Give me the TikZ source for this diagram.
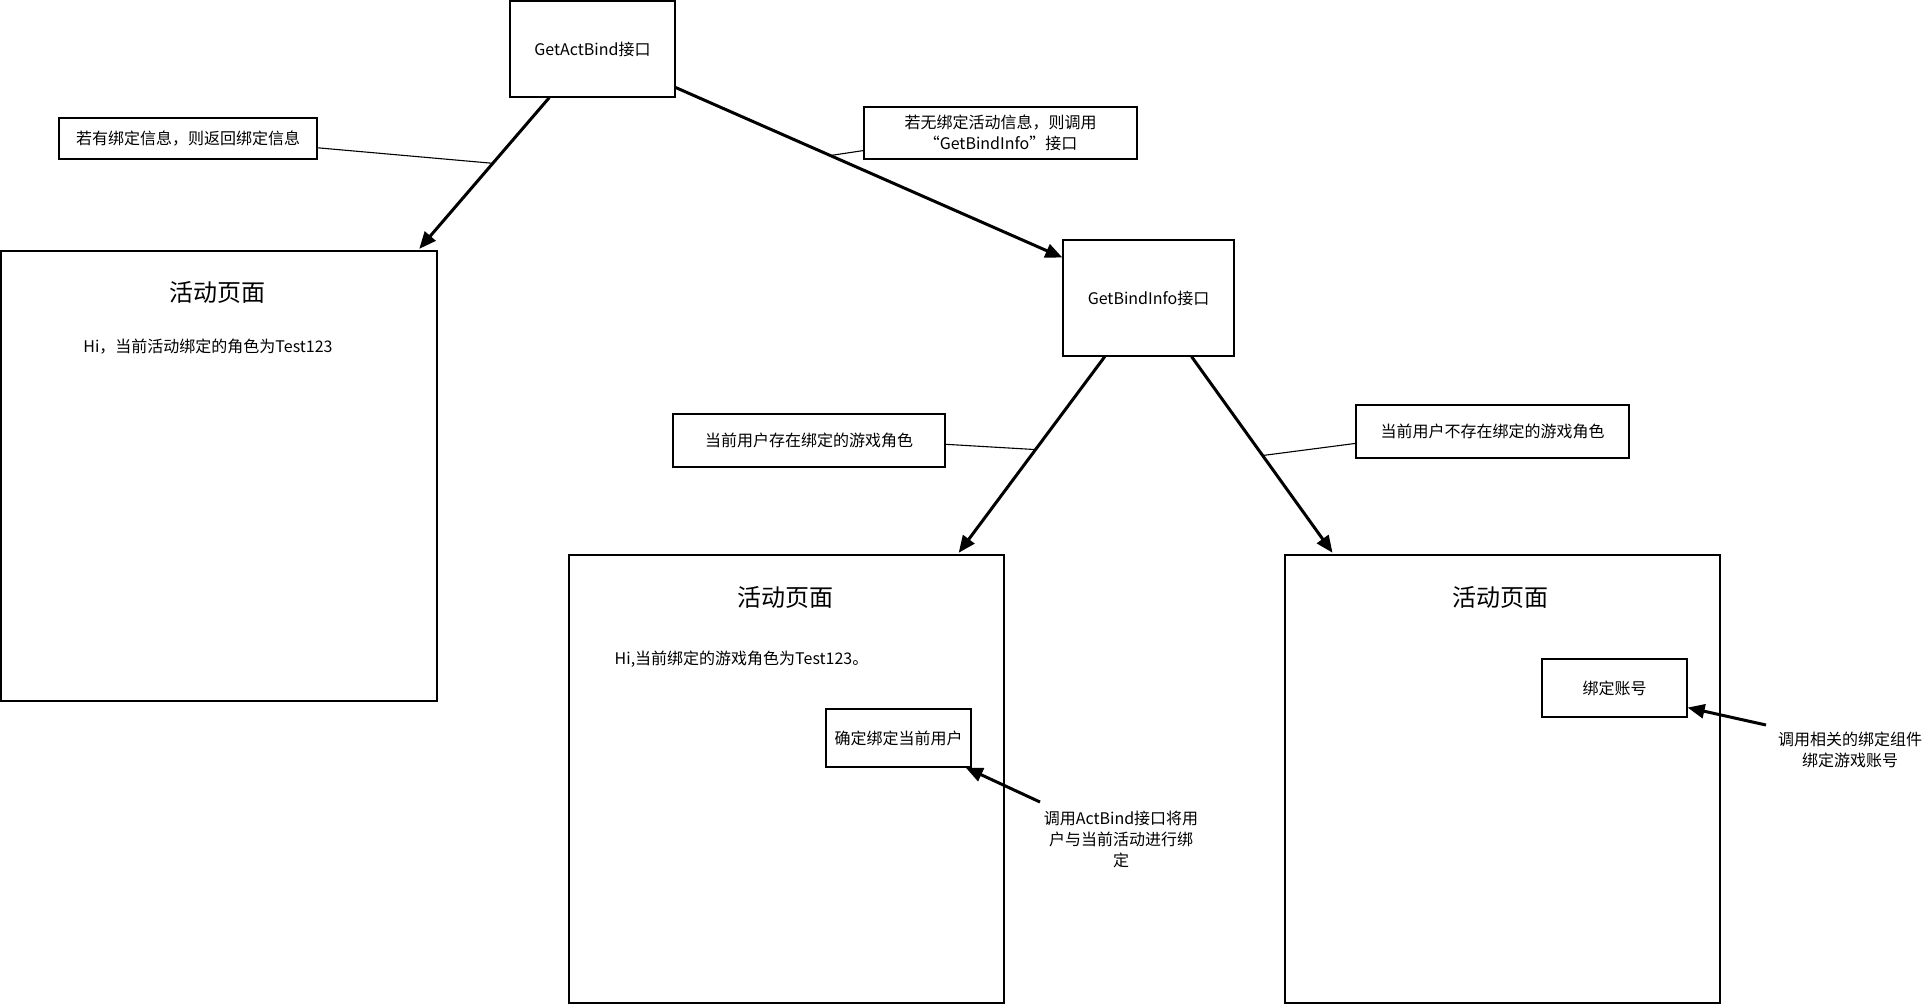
\documentclass[tikz,border=0pt]{standalone}
\usepackage{fontspec}
\setmainfont{Noto Sans CJK SC}
\usetikzlibrary{arrows.meta,calc}
\begin{document}
\begin{tikzpicture}[x=1pt,y=-1pt,
  box/.style={draw=black,line width=1.2pt,fill=white,inner sep=0pt,align=center,font=\fontsize{16}{21}\selectfont},
  flow/.style={line width=3pt,-{Triangle[length=17pt,width=14pt]}},
  note/.style={line width=1.1pt},
  txt/.style={font=\fontsize{16}{21}\selectfont,align=center,inner sep=0pt},
  ttl/.style={font=\fontsize{24}{28}\selectfont,inner sep=0pt}]
\useasboundingbox (0,0) rectangle (1932,1005);

% main boxes
\node[box,minimum width=165pt,minimum height=96pt] (gab) at (592.5,49) {GetActBind接口};
\node[box,minimum width=171pt,minimum height=116pt] (gbi) at (1148.5,298) {GetBindInfo接口};

% pages
\node[box,minimum width=436pt,minimum height=450pt] (p1) at (219,476) {};
\node[box,minimum width=435pt,minimum height=448pt] (p2) at (786.5,779) {};
\node[box,minimum width=435pt,minimum height=448pt] (p3) at (1502.5,779) {};

\node[ttl] (p1t) at ($(p1.north)+(-2,42)$) {活动页面};
\node[ttl] (p2t) at ($(p2.north)+(-1,43)$) {活动页面};
\node[ttl] (p3t) at ($(p3.north)+(-2,43)$) {活动页面};

\node[txt] (p1h) at ($(p1.north)+(-11,96)$) {Hi，当前活动绑定的角色为Test123};
\node[txt] (p2h) at ($(p2.north)+(-45,105)$) {Hi,当前绑定的游戏角色为Test123。};

\node[box,minimum width=145pt,minimum height=58pt] (b1) at (898.5,738) {确定绑定当前用户};
\node[box,minimum width=145pt,minimum height=58pt] (b2) at (1614.5,688) {绑定账号};

% label boxes
\node[box,minimum width=258pt,minimum height=41pt] (l1) at (188,138.5) {若有绑定信息，则返回绑定信息};
\node[box,minimum width=273pt,minimum height=52pt] (l2) at (1000.5,133) {若无绑定活动信息，则调用\\“GetBindInfo”接口};
\node[box,minimum width=272pt,minimum height=53pt] (l3) at (809,440.5) {当前用户存在绑定的游戏角色};
\node[box,minimum width=273pt,minimum height=53pt] (l4) at (1492.5,431.5) {当前用户不存在绑定的游戏角色};

% free texts
\node[txt] (t1) at (1121,839) {调用ActBind接口将用\\户与当前活动进行绑\\定};
\node[txt] (t2) at (1850,750) {调用相关的绑定组件\\绑定游戏账号};

% connector end points
\coordinate (a1s) at ($(gab.south west)!0.24!(gab.south east)$);
\coordinate (a1e) at ($(p1.north west)!0.955!(p1.north east)$);
\coordinate (a2s) at ($(gab.north east)!0.896!(gab.south east)$);
\coordinate (a2e) at ($(gbi.north west)!0.155!(gbi.south west)$);
\coordinate (a3s) at ($(gbi.south west)!0.246!(gbi.south east)$);
\coordinate (a3e) at ($(p2.north west)!0.892!(p2.north east)$);
\coordinate (a4s) at ($(gbi.south west)!0.75!(gbi.south east)$);
\coordinate (a4e) at ($(p3.north west)!0.113!(p3.north east)$);
\coordinate (a5s) at (1040,802);
\coordinate (a5e) at ($(b1.south west)!0.96!(b1.south east)$);
\coordinate (a6s) at (1766,725);
\coordinate (a6e) at ($(b2.north east)!0.83!(b2.south east)$);

% annotation lines
\draw[note] ($(l1.north east)!0.72!(l1.south east)$) -- ($(a1s)!0.43!(a1e)$);
\draw[note] ($(l2.north west)!0.83!(l2.south west)$) -- ($(a2s)!0.40!(a2e)$);
\draw[note] ($(l3.north east)!0.57!(l3.south east)$) -- ($(a3s)!0.47!(a3e)$);
\draw[note] ($(l4.north west)!0.72!(l4.south west)$) -- ($(a4s)!0.50!(a4e)$);

% flow arrows
\draw[flow,shorten >=2pt] (a1s) -- (a1e);
\draw[flow] (a2s) -- (a2e);
\draw[flow,shorten >=2pt] (a3s) -- (a3e);
\draw[flow,shorten >=2pt] (a4s) -- (a4e);
\draw[flow] (a5s) -- (a5e);
\draw[flow] (a6s) -- (a6e);
\end{tikzpicture}
\end{document}
